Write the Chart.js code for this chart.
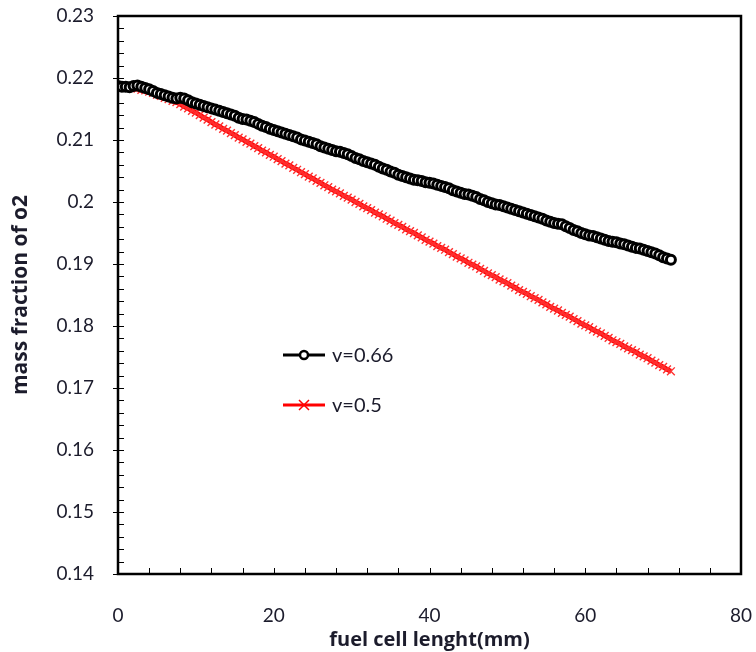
<!DOCTYPE html>
<html>
<head>
<meta charset="utf-8">
<script src="https://cdn.jsdelivr.net/npm/chart.js@4.4.0/dist/chart.umd.min.js"></script>
<style>
  html, body { margin: 0; padding: 0; background: #fff; }
  #wrap { width: 756px; height: 652px; }
</style>
</head>
<body>
<div id="wrap"><canvas id="chart" width="756" height="652"></canvas></div>
<script>
// fuel cell length (mm), one reading every 0.5 mm
var xMin = 0, xMax = 71, xStep = 0.5;
var yTicks = [0.14, 0.15, 0.16, 0.17, 0.18, 0.19, 0.20, 0.21, 0.22, 0.23];
var xTicks = [0, 20, 40, 60, 80];

// v=0.66
var o2Fast = [
    0.2187, 0.2186, 0.2186, 0.2185, 0.2187, 0.2188, 0.2186, 0.2184,
    0.2182, 0.2179, 0.2176, 0.2174, 0.2172, 0.2170, 0.2168, 0.2167,
    0.2168, 0.2167, 0.2164, 0.2161, 0.2159, 0.2157, 0.2155, 0.2153,
    0.2151, 0.2149, 0.2147, 0.2145, 0.2143, 0.2141, 0.2139, 0.2136,
    0.2134, 0.2133, 0.2131, 0.2129, 0.2126, 0.2123, 0.2121, 0.2118,
    0.2116, 0.2114, 0.2112, 0.2110, 0.2108, 0.2106, 0.2104, 0.2101,
    0.2099, 0.2097, 0.2095, 0.2093, 0.2090, 0.2088, 0.2086, 0.2084,
    0.2082, 0.2081, 0.2079, 0.2077, 0.2074, 0.2071, 0.2069, 0.2066,
    0.2064, 0.2062, 0.2060, 0.2057, 0.2054, 0.2052, 0.2049, 0.2047,
    0.2044, 0.2042, 0.2040, 0.2038, 0.2036, 0.2035, 0.2034, 0.2032,
    0.2031, 0.2030, 0.2028, 0.2026, 0.2024, 0.2022, 0.2019, 0.2017,
    0.2015, 0.2013, 0.2012, 0.2010, 0.2008, 0.2005, 0.2003, 0.2000,
    0.1998, 0.1996, 0.1995, 0.1993, 0.1991, 0.1989, 0.1987, 0.1985,
    0.1983, 0.1981, 0.1979, 0.1977, 0.1975, 0.1973, 0.1970, 0.1968,
    0.1966, 0.1965, 0.1964, 0.1961, 0.1958, 0.1955, 0.1953, 0.1950,
    0.1948, 0.1946, 0.1945, 0.1943, 0.1941, 0.1939, 0.1937, 0.1936,
    0.1935, 0.1933, 0.1932, 0.1930, 0.1928, 0.1926, 0.1925, 0.1923,
    0.1921, 0.1919, 0.1917, 0.1914, 0.1911, 0.1909, 0.1907
];

// v=0.5
var o2Slow = [
    0.2187, 0.2187, 0.2186, 0.2185, 0.2184, 0.2183, 0.2181, 0.2180,
    0.2178, 0.2176, 0.2173, 0.2171, 0.2168, 0.2166, 0.2163, 0.2161,
    0.2158, 0.2154, 0.2151, 0.2147, 0.2144, 0.2140, 0.2136, 0.2133,
    0.2129, 0.2125, 0.2122, 0.2118, 0.2115, 0.2111, 0.2108, 0.2104,
    0.2101, 0.2097, 0.2094, 0.2090, 0.2087, 0.2083, 0.2080, 0.2076,
    0.2073, 0.2069, 0.2066, 0.2062, 0.2059, 0.2055, 0.2052, 0.2048,
    0.2045, 0.2041, 0.2038, 0.2034, 0.2031, 0.2027, 0.2024, 0.2020,
    0.2017, 0.2014, 0.2010, 0.2007, 0.2004, 0.2000, 0.1997, 0.1993,
    0.1990, 0.1987, 0.1983, 0.1980, 0.1977, 0.1973, 0.1970, 0.1966,
    0.1963, 0.1960, 0.1956, 0.1953, 0.1950, 0.1946, 0.1943, 0.1939,
    0.1936, 0.1933, 0.1929, 0.1926, 0.1923, 0.1919, 0.1916, 0.1912,
    0.1909, 0.1906, 0.1902, 0.1899, 0.1896, 0.1892, 0.1889, 0.1885,
    0.1882, 0.1879, 0.1875, 0.1872, 0.1869, 0.1865, 0.1862, 0.1858,
    0.1855, 0.1852, 0.1848, 0.1845, 0.1842, 0.1838, 0.1835, 0.1831,
    0.1828, 0.1825, 0.1821, 0.1818, 0.1815, 0.1811, 0.1808, 0.1804,
    0.1801, 0.1798, 0.1794, 0.1791, 0.1788, 0.1784, 0.1781, 0.1777,
    0.1774, 0.1771, 0.1767, 0.1764, 0.1761, 0.1758, 0.1754, 0.1751,
    0.1748, 0.1744, 0.1741, 0.1737, 0.1734, 0.1730, 0.1727
];

function toPoints(vals) {
    var pts = [];
    for (var i = 0; i < vals.length; i++) {
        pts.push({ x: xMin + i * xStep, y: vals[i] });
    }
    return pts;
}

var textColor = '#1c1c2c';
var fontFamily = 'Lato, "Open Sans", sans-serif';
var titleFamily = '"Open Sans", Lato, sans-serif';

// inward tick marks + box border + legend drawn inside the plot
var framePlugin = {
    id: 'frame',
    afterDatasetsDraw: function (chart) {
        var ctx = chart.ctx;
        var a = chart.chartArea;
        var xs = chart.scales.x, ys = chart.scales.y;
        ctx.save();
        ctx.strokeStyle = '#000';
        ctx.lineWidth = 1;
        ctx.beginPath();
        for (var v = 0; v <= 80; v += 4) {
            var px = Math.round(xs.getPixelForValue(v)) + 0.5;
            ctx.moveTo(px, a.bottom);
            ctx.lineTo(px, a.bottom - 6);
        }
        for (var k = 0; k <= 45; k++) {
            var yv = 0.14 + k * 0.002;
            var py = Math.round(ys.getPixelForValue(yv)) + 0.5;
            var major = k % 5 === 0;
            ctx.moveTo(a.left + (major ? -5 : 0), py);
            ctx.lineTo(a.left + 6, py);
        }
        ctx.stroke();

        ctx.lineWidth = 2.5;
        ctx.strokeRect(a.left, a.top, a.right - a.left, a.bottom - a.top);

        // legend
        var items = chart.data.datasets;
        ctx.font = '20px ' + fontFamily;
        ctx.textBaseline = 'middle';
        for (var i = 0; i < items.length; i++) {
            var ds = items[i];
            var ly = a.top + 339 + i * 50;
            var lx = a.left + 165;
            ctx.strokeStyle = ds.borderColor;
            ctx.lineWidth = 3;
            ctx.beginPath();
            ctx.moveTo(lx, ly);
            ctx.lineTo(lx + 42, ly);
            ctx.stroke();
            var cx = lx + 21;
            if (ds.pointStyle === 'circle') {
                ctx.fillStyle = '#fff';
                ctx.lineWidth = 2.5;
                ctx.beginPath();
                ctx.arc(cx, ly, 4, 0, Math.PI * 2);
                ctx.fill();
                ctx.stroke();
            } else {
                ctx.lineWidth = 1.5;
                ctx.beginPath();
                ctx.moveTo(cx - 5, ly - 5); ctx.lineTo(cx + 5, ly + 5);
                ctx.moveTo(cx + 5, ly - 5); ctx.lineTo(cx - 5, ly + 5);
                ctx.stroke();
            }
            ctx.fillStyle = textColor;
            ctx.textAlign = 'left';
            ctx.fillText(ds.label, lx + 49, ly + 1);
        }
        ctx.restore();
    }
};

var ctx = document.getElementById('chart').getContext('2d');
var chart = new Chart(ctx, {
    type: 'line',
    data: {
        datasets: [{
            label: 'v=0.66',
            data: toPoints(o2Fast),
            borderColor: '#000',
            borderWidth: 2.5,
            pointStyle: 'circle',
            pointRadius: 4.5,
            pointBorderWidth: 3,
            pointBackgroundColor: '#fff',
            pointBorderColor: '#000',
            tension: 0
        }, {
            label: 'v=0.5',
            data: toPoints(o2Slow),
            borderColor: '#ff0000',
            borderWidth: 5,
            pointStyle: 'crossRot',
            pointRadius: 5.5,
            pointBorderWidth: 1.4,
            pointBorderColor: '#ff3030',
            tension: 0
        }]
    },
    options: {
        responsive: false,
        animation: false,
        layout: { padding: { top: 16, right: 15, left: 0, bottom: 0 } },
        plugins: {
            legend: { display: false },
            tooltip: { enabled: false }
        },
        scales: {
            x: {
                type: 'linear',
                min: 0,
                max: 80,
                afterBuildTicks: function (s) { s.ticks = xTicks.map(function (v) { return { value: v }; }); },
                afterFit: function (s) { s.height = 78; s.paddingLeft = 0; s.paddingRight = 0; },
                grid: { display: false, drawTicks: false },
                border: { display: false },
                ticks: {
                    padding: 30,
                    color: textColor,
                    font: { family: fontFamily, size: 19 },
                    maxRotation: 0
                },
                title: {
                    display: true,
                    text: 'fuel cell lenght(mm)',
                    color: textColor,
                    font: { family: titleFamily, size: 20, weight: 'bold' },
                    padding: { top: 0, bottom: 0 }
                }
            },
            y: {
                type: 'linear',
                min: 0.14,
                max: 0.23,
                afterBuildTicks: function (s) { s.ticks = yTicks.map(function (v) { return { value: v }; }); },
                afterFit: function (s) { s.width = 118; s.paddingTop = 0; s.paddingBottom = 0; },
                grid: { display: false, drawTicks: false },
                border: { display: false },
                ticks: {
                    padding: 24,
                    color: textColor,
                    font: { family: fontFamily, size: 19 },
                    callback: function (v) { return String(+v.toFixed(2)); }
                },
                title: {
                    display: true,
                    text: 'mass fraction of o2',
                    color: textColor,
                    font: { family: titleFamily, size: 21, weight: 'bold' },
                    padding: { top: 8, bottom: 0 }
                }
            }
        }
    },
    plugins: [framePlugin]
});
</script>
</body>
</html>
